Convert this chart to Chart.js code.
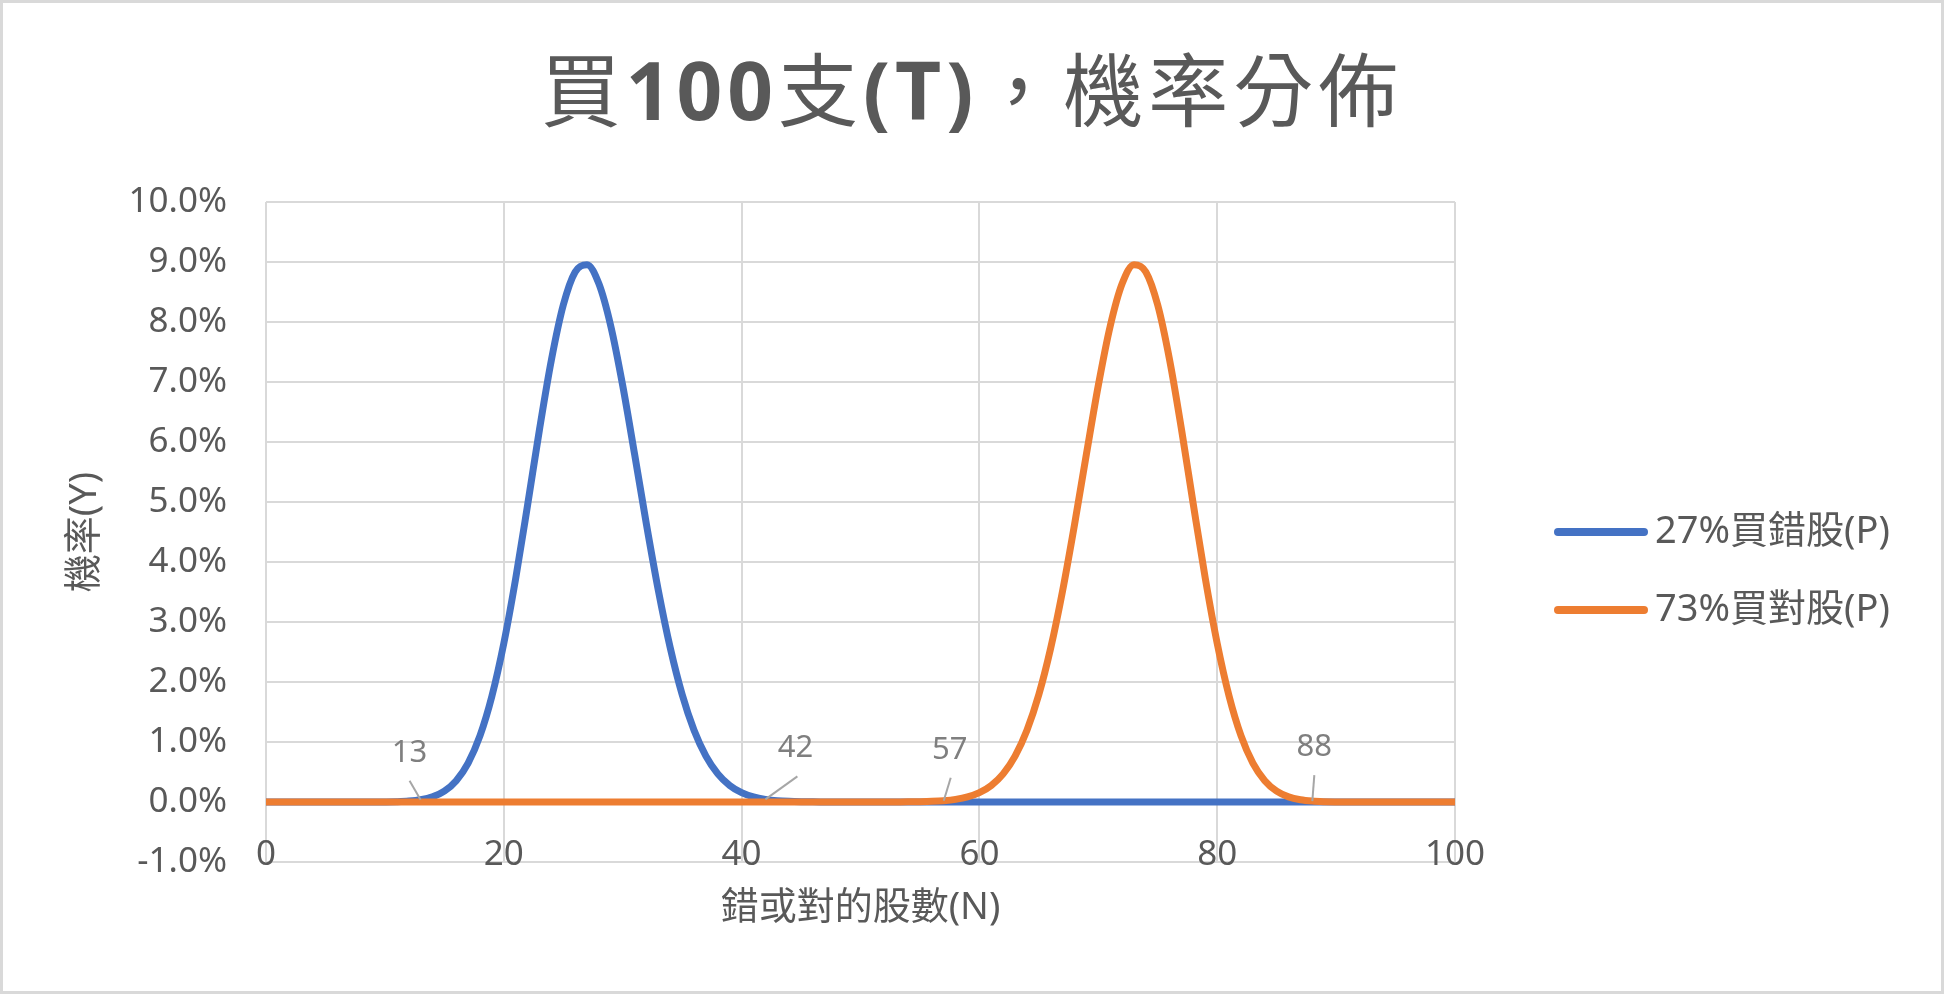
<!DOCTYPE html>
<html lang="zh-Hant">
  <head>
    <meta charset="UTF-8" />
    <title>買100支(T)，機率分佈</title>
    <script src="https://cdn.jsdelivr.net/npm/chart.js"></script>
    <style>
      html,
      body {
        margin: 0;
        padding: 0;
        background: #ffffff;
      }
      canvas {
        display: block;
      }
    </style>
  </head>
  <body>
    <canvas id="probChart" width="1944" height="994"></canvas>
    <script>
      // 股數 N (0 ~ 100)
      const shares = [
        0, 1, 2, 3, 4, 5, 6, 7, 8, 9, 10, 11, 12, 13, 14, 15, 16, 17, 18, 19,
        20, 21, 22, 23, 24, 25, 26, 27, 28, 29, 30, 31, 32, 33, 34, 35, 36, 37,
        38, 39, 40, 41, 42, 43, 44, 45, 46, 47, 48, 49, 50, 51, 52, 53, 54, 55,
        56, 57, 58, 59, 60, 61, 62, 63, 64, 65, 66, 67, 68, 69, 70, 71, 72, 73,
        74, 75, 76, 77, 78, 79, 80, 81, 82, 83, 84, 85, 86, 87, 88, 89, 90, 91,
        92, 93, 94, 95, 96, 97, 98, 99, 100,
      ];

      // 27% 買錯股 機率 (%)
      const wrongPct = [
        0, 0, 0, 0, 0, 0, 0, 0.00003, 0.00014, 0.00053,
        0.0018, 0.0054, 0.0148, 0.037, 0.0851, 0.1805, 0.3547, 0.6483, 1.1056, 1.7648,
        2.6436, 3.7249, 4.9475, 6.2062, 7.3645, 8.2805, 8.8346, 8.9556, 8.6358, 7.9301,
        6.9416, 5.7974, 4.6235, 3.5238, 2.5683, 1.7913, 1.1962, 0.7653, 0.4693, 0.2759,
        0.1556, 0.0842, 0.0438, 0.0218, 0.0105, 0.0048, 0.0021, 0.0009, 0.0004, 0.0001,
        0, 0, 0, 0, 0, 0, 0, 0, 0, 0,
        0, 0, 0, 0, 0, 0, 0, 0, 0, 0,
        0, 0, 0, 0, 0, 0, 0, 0, 0, 0,
        0, 0, 0, 0, 0, 0, 0, 0, 0, 0,
        0, 0, 0, 0, 0, 0, 0, 0, 0, 0,
        0,
      ];

      // 73% 買對股 機率 (%)
      const rightPct = [
        0, 0, 0, 0, 0, 0, 0, 0, 0, 0,
        0, 0, 0, 0, 0, 0, 0, 0, 0, 0,
        0, 0, 0, 0, 0, 0, 0, 0, 0, 0,
        0, 0, 0, 0, 0, 0, 0, 0, 0, 0,
        0, 0, 0, 0, 0, 0, 0, 0, 0, 0,
        0, 0.0001, 0.0004, 0.0009, 0.0021, 0.0048, 0.0105, 0.0218, 0.0438, 0.0842,
        0.1556, 0.2759, 0.4693, 0.7653, 1.1962, 1.7913, 2.5683, 3.5238, 4.6235, 5.7974,
        6.9416, 7.9301, 8.6358, 8.9556, 8.8346, 8.2805, 7.3645, 6.2062, 4.9475, 3.7249,
        2.6436, 1.7648, 1.1056, 0.6483, 0.3547, 0.1805, 0.0851, 0.037, 0.0148, 0.0054,
        0.0018, 0.00053, 0.00014, 0.00003, 0, 0, 0, 0, 0, 0,
        0,
      ];

      // 標示的股數
      const wrongNotes = [13, 42];
      const rightNotes = [57, 88];

      const titleText = "買100支(T)，機率分佈";
      const seriesNames = ["27%買錯股(P)", "73%買對股(P)"];
      const yTicks = { min: -1, max: 10, step: 1 };
      const xTicks = { min: 0, max: 100, step: 20 };

      const FONT = "'Noto Sans', 'Noto Sans CJK TC', sans-serif";
      Chart.defaults.font.family = FONT;
      Chart.defaults.color = "#595959";

      const toPoints = (vals) => vals.map((v, i) => ({ x: shares[i], y: v }));

      // 白底 + 外框 + 標題 (英數粗體, 中文一般)
      const frame = {
        id: "frame",
        beforeDraw(chart) {
          const ctx = chart.ctx;
          ctx.save();
          ctx.fillStyle = "#ffffff";
          ctx.fillRect(0, 0, chart.width, chart.height);
          ctx.strokeStyle = "#d9d9d9";
          ctx.lineWidth = 3;
          ctx.strokeRect(1.5, 1.5, chart.width - 3, chart.height - 3);

          const runs = titleText.match(/[\x00-\x7f]+|[^\x00-\x7f]+/g);
          ctx.letterSpacing = "5px";
          ctx.textBaseline = "middle";
          ctx.textAlign = "left";
          const fontOf = (r) =>
            (/^[\x00-\x7f]/.test(r) ? "bold " : "") + "80px " + FONT;
          let total = 0;
          runs.forEach((r) => {
            ctx.font = fontOf(r);
            total += ctx.measureText(r).width;
          });
          let x = chart.width / 2 - total / 2;
          ctx.fillStyle = "#595959";
          runs.forEach((r) => {
            ctx.font = fontOf(r);
            ctx.fillText(r, x, 97);
            x += ctx.measureText(r).width;
          });
          ctx.restore();
        },
      };

      // X 軸刻度文字 (壓在 -1.0% 線上方)
      const xLabels = {
        id: "xLabels",
        afterDraw(chart) {
          const ctx = chart.ctx;
          const sx = chart.scales.x;
          ctx.save();
          ctx.fillStyle = "#595959";
          ctx.font = "35px " + FONT;
          ctx.textAlign = "center";
          ctx.textBaseline = "middle";
          sx.ticks.forEach((t) => {
            ctx.fillText(String(t.value), sx.getPixelForValue(t.value), chart.chartArea.bottom - 7);
          });
          ctx.restore();
        },
      };

      // 資料標籤 (含引線)
      const notes = {
        id: "notes",
        afterDatasetsDraw(chart, args, opts) {
          const ctx = chart.ctx;
          ctx.save();
          chart.data.datasets.forEach((ds, di) => {
            const meta = chart.getDatasetMeta(di);
            (ds.notes || []).forEach((n) => {
              const el = meta.data[shares.indexOf(n)];
              const off = opts.offsets[n] || [0, -50];
              const tx = el.x + off[0];
              const ty = el.y + off[1];
              ctx.strokeStyle = "#a6a6a6";
              ctx.lineWidth = 2;
              ctx.beginPath();
              ctx.moveTo(el.x, el.y);
              ctx.lineTo(tx + (off[2] || 0), ty + 28);
              ctx.stroke();
              ctx.fillStyle = "#7f7f7f";
              ctx.font = "31px " + FONT;
              ctx.textAlign = "center";
              ctx.textBaseline = "middle";
              ctx.fillText(String(n), tx, ty);
            });
          });
          ctx.restore();
        },
      };

      // 右側圖例
      const sideLegend = {
        id: "sideLegend",
        afterDraw(chart) {
          const ctx = chart.ctx;
          const area = chart.chartArea;
          const x0 = area.right + 99;
          const cy = (area.top + area.bottom) / 2;
          ctx.save();
          chart.data.datasets.forEach((ds, i) => {
            const y = cy + i * 78;
            ctx.strokeStyle = ds.borderColor;
            ctx.lineWidth = 8;
            ctx.lineCap = "round";
            ctx.beginPath();
            ctx.moveTo(x0 + 4, y);
            ctx.lineTo(x0 + 90, y);
            ctx.stroke();
            ctx.fillStyle = "#595959";
            ctx.font = "38px " + FONT;
            ctx.textAlign = "left";
            ctx.textBaseline = "middle";
            ctx.fillText(ds.label, x0 + 101, y);
          });
          ctx.restore();
        },
      };

      new Chart(document.getElementById("probChart"), {
        type: "line",
        data: {
          datasets: [
            {
              label: seriesNames[0],
              data: toPoints(wrongPct),
              notes: wrongNotes,
              borderColor: "#4472c4",
              backgroundColor: "#4472c4",
              borderWidth: 7,
              pointRadius: 0,
              cubicInterpolationMode: "monotone",
              order: 1,
            },
            {
              label: seriesNames[1],
              data: toPoints(rightPct),
              notes: rightNotes,
              borderColor: "#ed7d31",
              backgroundColor: "#ed7d31",
              borderWidth: 7,
              pointRadius: 0,
              cubicInterpolationMode: "monotone",
              order: 0,
            },
          ],
        },
        options: {
          responsive: false,
          animation: false,
          layout: {
            autoPadding: false,
            padding: { left: 0, right: 489, top: 202, bottom: 0 },
          },
          plugins: {
            legend: { display: false },
            tooltip: { enabled: false },
            title: { display: false },
            notes: {
              offsets: {
                13: [-11, -47, 0],
                42: [30, -51, 2],
                57: [6, -51, 1],
                88: [2, -54, 0],
              },
            },
          },
          scales: {
            x: {
              type: "linear",
              min: xTicks.min,
              max: xTicks.max,
              afterFit: (s) => {
                s.height = 132;
              },
              ticks: { stepSize: xTicks.step, display: false },
              grid: { color: "#d9d9d9", lineWidth: 2, drawTicks: false },
              border: { display: false },
              title: {
                display: true,
                text: "錯或對的股數(N)",
                color: "#595959",
                font: { size: 38 },
                padding: { top: 0, bottom: 63 },
              },
            },
            y: {
              min: yTicks.min,
              max: yTicks.max,
              afterFit: (s) => {
                s.width = 266;
              },
              ticks: {
                stepSize: yTicks.step,
                padding: 39,
                color: "#595959",
                font: { size: 35 },
                callback: (v) => Number(v).toFixed(1) + "%",
              },
              grid: { color: "#d9d9d9", lineWidth: 2, drawTicks: false },
              border: { display: false },
              title: {
                display: true,
                text: "機率(Y)",
                color: "#595959",
                font: { size: 38 },
                padding: { top: 62, bottom: 0 },
              },
            },
          },
        },
        plugins: [frame, xLabels, notes, sideLegend],
      });
    </script>
  </body>
</html>
